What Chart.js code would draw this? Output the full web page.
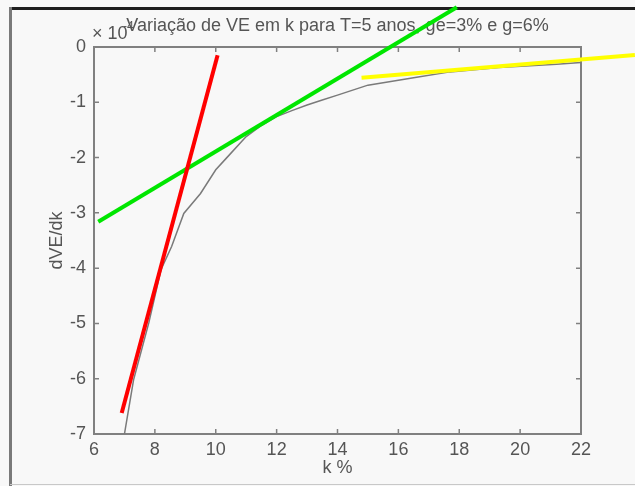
<!DOCTYPE html>
<html>
<head>
<meta charset="utf-8">
<script src="https://cdn.jsdelivr.net/npm/chart.js@4.4.0/dist/chart.umd.min.js"></script>
<style>
  html, body { margin: 0; padding: 0; background: #f8f8f8; }
  #wrap { width: 635px; height: 486px; }
</style>
</head>
<body>
<div id="wrap"><canvas id="chart" width="635" height="486"></canvas></div>
<script>
// ── data (units of 1e-4) ─────────────────────────────────────
const kValues   = [7.0, 7.3, 7.8, 8.2, 8.55, 8.95, 9.5, 10.0, 10.35, 11.0, 11.5, 12.0, 12.5, 13.0, 13.5, 14.0, 14.5, 15.0, 15.7, 16.7, 17.7, 19.3, 21.2, 22.0];
const dveValues = [-7.0, -6.02, -4.99, -4.03, -3.61, -3.01, -2.65, -2.22, -2.01, -1.62, -1.42, -1.26, -1.15, -1.05, -0.96, -0.87, -0.78, -0.69, -0.63, -0.54, -0.45, -0.37, -0.31, -0.28];

// tangent lines
const redK    = [6.91, 10.06];
const redV    = [-6.62, -0.15];
const greenK  = [6.14, 17.92];
const greenV  = [-3.16, 0.72];
const yellowK = [14.79, 23.77];
const yellowV = [-0.555, -0.145];

const xTicks = [6, 8, 10, 12, 14, 16, 18, 20, 22];
const yTicks = [0, -1, -2, -3, -4, -5, -6, -7];

const TITLE  = 'Variação de VE em k para T=5 anos, ge=3% e g=6%';
const _font  = '"Liberation Sans", Arial, sans-serif';
const _txt   = '#555';
const _box   = '#808080';

const pts = (xs, ys) => xs.map((x, i) => ({ x: x, y: ys[i] }));

// MATLAB-ish frame: window border, axes box with inward ticks, title
const matlabFrame = {
  id: 'matlabFrame',
  beforeDraw(chart) {
    const ctx = chart.ctx;
    ctx.save();
    ctx.fillStyle = '#f8f8f8';
    ctx.fillRect(0, 0, chart.width, chart.height);
    ctx.fillStyle = '#1e1e1e';
    ctx.fillRect(10, 7, chart.width - 10, 3);
    ctx.fillStyle = '#7a7a7a';
    ctx.fillRect(9, 7, 3, chart.height - 7);
    ctx.fillStyle = '#c8c8c8';
    ctx.fillRect(10, 484, chart.width - 10, 1);
    ctx.restore();
  },
  beforeDatasetsDraw(chart) {
    const { ctx, chartArea: a, scales: { x, y } } = chart;
    ctx.save();
    ctx.strokeStyle = _box;
    ctx.lineWidth = 2;
    ctx.strokeRect(a.left, a.top, a.right - a.left, a.bottom - a.top);
    ctx.lineWidth = 1.5;
    ctx.beginPath();
    xTicks.forEach(v => {
      const px = x.getPixelForValue(v);
      ctx.moveTo(px, a.bottom); ctx.lineTo(px, a.bottom - 5);
      ctx.moveTo(px, a.top);    ctx.lineTo(px, a.top + 5);
    });
    yTicks.forEach(v => {
      const py = y.getPixelForValue(v);
      ctx.moveTo(a.left, py);  ctx.lineTo(a.left + 5, py);
      ctx.moveTo(a.right, py); ctx.lineTo(a.right - 5, py);
    });
    ctx.stroke();

    // exponent label
    ctx.fillStyle = _txt;
    ctx.textBaseline = 'middle';
    ctx.textAlign = 'left';
    ctx.font = '18px ' + _font;
    ctx.fillText('× 10', a.left - 2, 34);
    ctx.font = '12px ' + _font;
    ctx.fillText('-4', a.left + 29, 27);

    // title
    ctx.font = '18px ' + _font;
    ctx.textAlign = 'center';
    ctx.fillText(TITLE, (a.left + a.right) / 2, 26);
    ctx.restore();
  }
};

new Chart(document.getElementById('chart'), {
  type: 'line',
  data: {
    datasets: [
      { data: pts(redK, redV),       borderColor: '#ff0000', borderWidth: 4, pointRadius: 0, clip: false },
      { data: pts(greenK, greenV),   borderColor: '#00e600', borderWidth: 4, pointRadius: 0, clip: false },
      { data: pts(yellowK, yellowV), borderColor: '#ffff00', borderWidth: 4, pointRadius: 0, clip: false },
      { data: pts(kValues, dveValues), borderColor: '#7a7a7a', borderWidth: 1.5, pointRadius: 0, tension: 0 }
    ]
  },
  options: {
    responsive: false,
    animation: false,
    devicePixelRatio: 1,
    layout: { padding: { left: 0, right: 54, top: 47, bottom: 0 } },
    plugins: { legend: { display: false }, tooltip: { enabled: false }, title: { display: false } },
    scales: {
      x: {
        type: 'linear', min: 6, max: 22,
        afterFit: s => { s.height = 52; },
        afterBuildTicks: s => { s.ticks = xTicks.map(v => ({ value: v })); },
        grid: { display: false, drawTicks: false },
        border: { display: false },
        ticks: { color: _txt, padding: 5, font: { family: _font, size: 18 } },
        title: { display: true, text: 'k %', color: _txt, padding: { top: 0, bottom: 7 }, font: { family: _font, size: 18 } }
      },
      y: {
        type: 'linear', min: -7, max: 0,
        afterFit: s => { s.width = 94; },
        afterBuildTicks: s => { s.ticks = yTicks.map(v => ({ value: v })); },
        grid: { display: false, drawTicks: false },
        border: { display: false },
        ticks: { color: _txt, padding: 8, font: { family: _font, size: 18 } },
        title: { display: true, text: 'dVE/dk', color: _txt, padding: { top: 46, bottom: 0 }, font: { family: _font, size: 18 } }
      }
    }
  },
  plugins: [matlabFrame]
});
</script>
</body>
</html>
